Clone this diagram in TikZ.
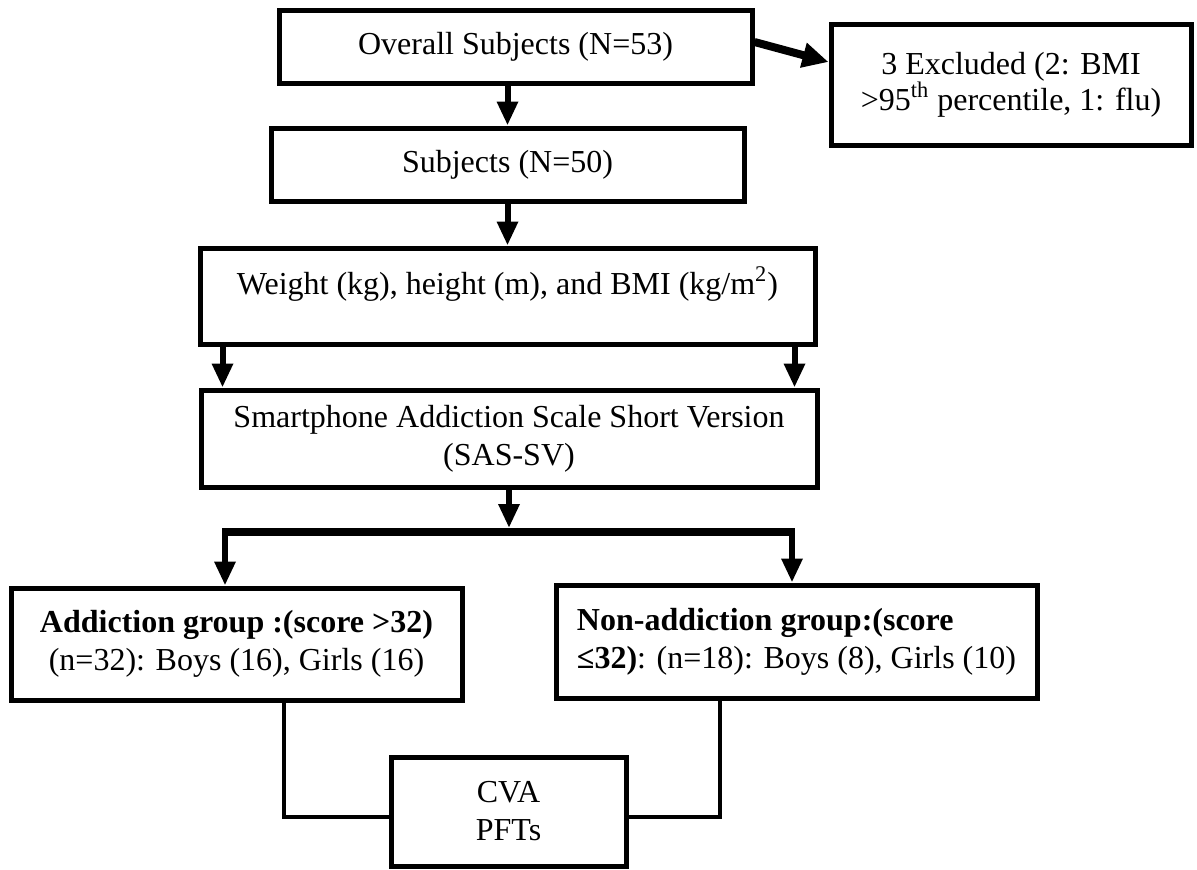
\documentclass[tikz,border=0pt]{standalone}
\usepackage{fontspec}
\setmainfont{Liberation Serif}
\usetikzlibrary{arrows.meta,calc}
\tikzset{
  box/.style={draw=black, line width=2.5pt, fill=white, inner sep=0pt, align=center,
    font=\fontsize{16}{18}\selectfont},
  arr/.style={line width=3pt, -{Triangle[length=12pt,width=10pt]}},
  link/.style={line width=2pt},
}
\begin{document}
\begin{tikzpicture}[x=0.5pt,y=-0.5pt]
\useasboundingbox (0,0) rectangle (1197,869);
\node[box, minimum width=236.5pt, minimum height=36.5pt] (ov) at (515.5,46.5) {Overall Subjects (N=53)};
\node[box, minimum width=180pt, minimum height=60.5pt] (ex) at (1011,84.5) {3 Excluded (2: BMI\\[0pt] >95\textsuperscript{th} percentile, 1: flu)};
\node[box, minimum width=236.5pt, minimum height=36.5pt] (sub) at (507.5,164.5) {Subjects (N=50)};
\node[box, minimum width=307.5pt, minimum height=48pt] (wt) at (507.5,296) {\raisebox{1pt}[0pt][0pt]{Weight (kg), height (m), and BMI (kg/m\textsuperscript{2})}};
\node[box, minimum width=308pt, minimum height=48.5pt] (sas) at (509,438.5) {Smartphone Addiction Scale Short Version\\[1pt](SAS-SV)};
\node[box, minimum width=225.5pt, minimum height=56pt] (add) at (236.5,644) {\textbf{Addiction group :(score >32)}\\[1pt](n=32): Boys (16), Girls (16)};
\node[box, minimum width=240.5pt, minimum height=56.5pt, align=left] (non) at (796.5,641.5) {\textbf{Non-addiction group:(score}\\[1pt]\textbf{≤32)}: (n=18): Boys (8), Girls (10)};
\node[box, minimum width=117.5pt, minimum height=54.5pt] (cva) at (508.5,811.5) {CVA\\[1pt]PFTs};

\coordinate (barL) at (225,532);
\coordinate (barR) at (792,532);
\coordinate (barM) at (sas.south |- barL);

\draw[arr, line width=4pt, -{Triangle[length=13pt,width=12pt]}] ([yshift=2.25pt]ov.east) -- ([yshift=11.25pt]ex.west);
\draw[arr] (sub.north |- ov.south) -- (sub.north);
\draw[arr] (sub.south) -- (sub.south |- wt.north);
\draw[arr] ([xshift=12.5pt]wt.south west) -- ([xshift=12.5pt]wt.south west |- sas.north);
\draw[arr] ([xshift=-11.5pt]wt.south east) -- ([xshift=-11.5pt]wt.south east |- sas.north);
\draw[arr] (sas.south) -- ([yshift=2pt]barM);
\draw[line width=4pt] ([xshift=-1.5pt]barL) -- ([xshift=1.5pt]barR);
\draw[arr] (barL) -- (barL |- add.north);
\draw[arr] (barR) -- (barR |- non.north);
\draw[link] ([xshift=23.75pt]add.south) |- ([yshift=-2.75pt]cva.west);
\draw[link] ([xshift=-38.25pt]non.south) |- ([yshift=-2.75pt]cva.east);
\end{tikzpicture}
\end{document}
